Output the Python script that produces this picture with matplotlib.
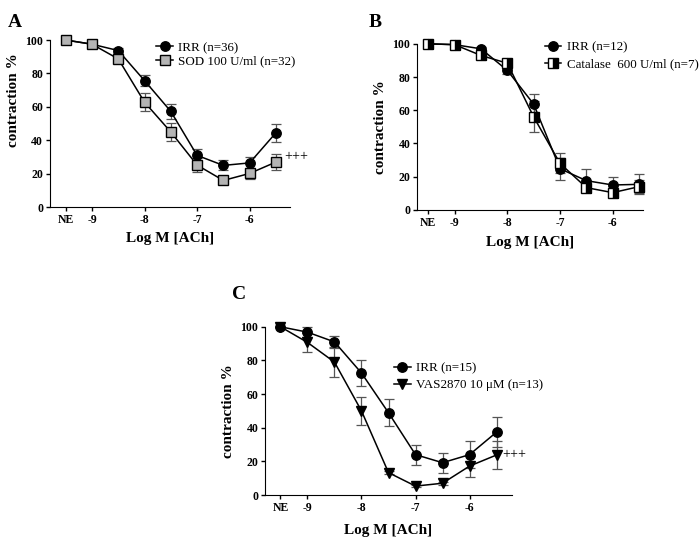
import numpy as np
import matplotlib
matplotlib.use("Agg")
import matplotlib.pyplot as plt

plt.rcParams["font.family"] = ["Liberation Serif", "DejaVu Serif"]

# x positions: NE plotted half a decade left of -9
doses = [-9.5, -9, -8.5, -8, -7.5, -7, -6.5, -6, -5.5]
tick_pos = [-9.5, -9, -8, -7, -6]
tick_lab = ["NE", "-9", "-8", "-7", "-6"]
yticks = [0, 20, 40, 60, 80, 100]

# Panel A
a_irr = [100, 97.5, 93.7, 75.7, 57.3, 31, 25, 26.5, 44.5]
a_irr_err = [0, 1, 1.5, 3.2, 4.4, 3.8, 3, 3.6, 5.4]
a_sod = [100, 97.5, 88.7, 62.8, 45, 25.2, 16, 20.2, 27]
a_sod_err = [0, 1, 2, 5.4, 5.4, 4.4, 2, 3.2, 4.7]

# Panel B
b_irr = [100, 99.5, 97, 84, 63.7, 24.8, 17.6, 15, 15.4]
b_irr_err = [0, 1, 1, 2, 6.3, 6.6, 7, 5, 6]
b_cat = [100, 99.5, 93, 88.3, 56, 28, 13.4, 10.4, 14]
b_cat_err = [0, 1, 1.5, 2.5, 9.3, 6, 2, 2, 4]

# Panel C
c_irr = [100, 96.8, 91, 72.5, 48.9, 24, 19.2, 24, 37.4]
c_irr_err = [0, 3, 3.6, 7.5, 8, 6, 6, 8, 8.7]
c_vas = [100, 90.7, 79, 50, 13.3, 5.3, 7, 17.2, 23.8]
c_vas_err = [0, 5.7, 9, 8.5, 1, 0.8, 0.8, 6.2, 8.4]

fig = plt.figure(figsize=(7, 5.41), dpi=100)


def setup(ax, xlim, xpad=7):
    ax.set_xlim(*xlim)
    ax.set_ylim(0, 100)
    ax.spines["top"].set_visible(False)
    ax.spines["right"].set_visible(False)
    ax.spines["left"].set_bounds(0, 100)
    ax.set_xticks(tick_pos)
    ax.set_xticklabels(tick_lab, fontsize=8.5, fontweight="bold")
    ax.set_yticks(yticks)
    ax.set_yticklabels([str(v) for v in yticks], fontsize=8.5, fontweight="bold")
    ax.tick_params(direction="out", length=3, width=1, pad=2)
    ax.set_ylabel("contraction %", fontsize=11, fontweight="bold", labelpad=4)
    ax.set_xlabel("Log M [ACh]", fontsize=11, fontweight="bold", labelpad=xpad)


def series(ax, y, err, label, **kw):
    # error bars first, then line + markers (keeps legend handles clean)
    ax.errorbar(doses, y, yerr=err, fmt="none", ecolor="#555555", elinewidth=0.9,
                capsize=3.5, capthick=0.9, clip_on=False, zorder=2)
    ax.plot(doses, y, color="black", lw=1.1, markeredgecolor="black",
            markeredgewidth=1, clip_on=False, zorder=3, label=label, **kw)


leg_kw = dict(frameon=False, fontsize=9.4, handlelength=1.3, handletextpad=0.4,
              borderaxespad=0)

# A
axA = fig.add_axes([0.0714, 0.617, 0.343, 0.309])
setup(axA, (-9.8, -5.23), xpad=4)
axA.yaxis.set_label_coords(-0.125, 0.64)
series(axA, a_irr, a_irr_err, "IRR (n=36)", marker="o", ms=6.8, markerfacecolor="black")
series(axA, a_sod, a_sod_err, "SOD 100 U/ml (n=32)", marker="s", ms=6.8, markerfacecolor="#b4b4b4")
axA.text(-5.35, 30.5, "+++", fontsize=10, va="center")
axA.legend(loc="upper left", bbox_to_anchor=(0.42, 1.02), labelspacing=0.1, **leg_kw)
fig.text(0.011, 0.975, "A", fontsize=14, fontweight="bold", va="top")

# B
axB = fig.add_axes([0.596, 0.612, 0.323, 0.307])
setup(axB, (-9.71, -5.42), xpad=5)
series(axB, b_irr, b_irr_err, "IRR (n=12)", marker="o", ms=6.8, markerfacecolor="black")
series(axB, b_cat, b_cat_err, "Catalase  600 U/ml (n=7)", marker="s", ms=6.8,
       fillstyle="right", markerfacecolor="black", markerfacecoloralt="white")
axB.legend(loc="upper left", bbox_to_anchor=(0.54, 1.045), labelspacing=0.35, **leg_kw)
fig.text(0.527, 0.975, "B", fontsize=14, fontweight="bold", va="top")

# C
axC = fig.add_axes([0.379, 0.085, 0.352, 0.311])
setup(axC, (-9.78, -5.22))
series(axC, c_irr, c_irr_err, "IRR (n=15)", marker="o", ms=6.8, markerfacecolor="black")
series(axC, c_vas, c_vas_err, "VAS2870 10 μM (n=13)", marker="v", ms=7.2, markerfacecolor="black")
axC.text(-5.4, 24, "+++", fontsize=10, va="center")
axC.legend(loc="upper left", bbox_to_anchor=(0.5, 0.82), labelspacing=0.35, **leg_kw)
fig.text(0.332, 0.472, "C", fontsize=14, fontweight="bold", va="top")

fig.savefig("out.png", dpi=100)
